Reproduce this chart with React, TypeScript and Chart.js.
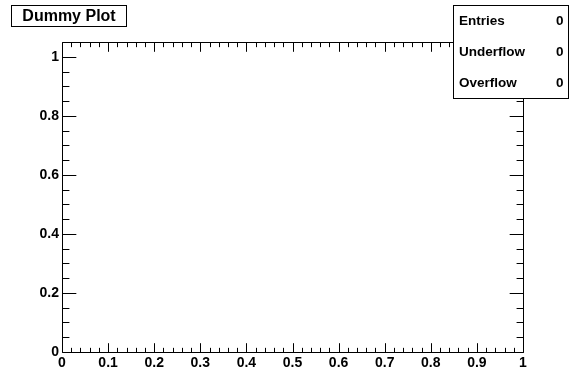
import React, { useEffect, useRef } from 'react';
import { Chart, registerables } from 'chart.js';

Chart.register(...registerables);

const plotTitle = 'Dummy Plot';
const entries: { x: number; y: number }[] = [];
const xRange = [0, 1];
const yRange = [0, 1.05];
const xTickValues = [0, 0.1, 0.2, 0.3, 0.4, 0.5, 0.6, 0.7, 0.8, 0.9, 1];
const xTickLabels = ['0', '0.1', '0.2', '0.3', '0.4', '0.5', '0.6', '0.7', '0.8', '0.9', '1'];
const yTickValues = [0, 0.2, 0.4, 0.6, 0.8, 1];
const yTickLabels = ['0', '0.2', '0.4', '0.6', '0.8', '1'];
const xMinorDivisions = 5;
const yMinorDivisions = 4;
const statsLabels = ['Entries', 'Underflow', 'Overflow'];
const statsValues = ['0', '0', '0'];

const FONT = '"Liberation Sans", Arial, Helvetica, sans-serif';

function minorValues(major: number[], div: number, min: number, max: number) {
  const step = (major[1] - major[0]) / div;
  const out: number[] = [];
  const k0 = Math.ceil(min / step - 1e-6);
  const k1 = Math.floor(max / step + 1e-6);
  for (let k = k0; k <= k1; k++) {
    if (k % div === 0) continue;
    out.push(k * step);
  }
  return out;
}

const rootPlugin = {
  id: 'rootFrame',
  afterDraw(chart: any) {
    const ctx: CanvasRenderingContext2D = chart.ctx;
    const { left, right, top, bottom } = chart.chartArea;
    const xs = chart.scales.x;
    const ys = chart.scales.y;
    const L = Math.round(left) + 0.5;
    const R = Math.round(right) + 0.5;
    const T = Math.round(top) + 0.5;
    const B = Math.round(bottom) + 0.5;
    const h = bottom - top;
    const w = right - left;
    const xMaj = 0.03 * h;
    const yMaj = 0.03 * w;
    ctx.save();
    ctx.strokeStyle = '#000';
    ctx.lineWidth = 1;
    ctx.beginPath();
    ctx.rect(L, T, R - L, B - T);
    const xMinor = minorValues(xTickValues, xMinorDivisions, xRange[0], xRange[1]);
    const drawX = (v: number, len: number) => {
      const px = Math.round(xs.getPixelForValue(v)) + 0.5;
      ctx.moveTo(px, B);
      ctx.lineTo(px, B - len);
      ctx.moveTo(px, T);
      ctx.lineTo(px, T + len);
    };
    xTickValues.forEach((v) => drawX(v, xMaj));
    xMinor.forEach((v) => drawX(v, xMaj / 2));
    const yMinor = minorValues(yTickValues, yMinorDivisions, yRange[0], yRange[1]);
    const drawY = (v: number, len: number) => {
      const py = Math.round(ys.getPixelForValue(v)) + 0.5;
      ctx.moveTo(L, py);
      ctx.lineTo(L + len, py);
      ctx.moveTo(R, py);
      ctx.lineTo(R - len, py);
    };
    yTickValues.forEach((v) => drawY(v, yMaj));
    yMinor.forEach((v) => drawY(v, yMaj / 2));
    ctx.stroke();

    // title box
    ctx.fillStyle = '#fff';
    ctx.fillRect(11.5, 5.5, 115, 21);
    ctx.strokeRect(11.5, 5.5, 115, 21);
    ctx.fillStyle = '#000';
    ctx.font = `bold 16px ${FONT}`;
    ctx.textAlign = 'center';
    ctx.textBaseline = 'middle';
    ctx.fillText(plotTitle, 69, 16.5);

    // stats box
    const bx = 453.5, by = 5.5, bw = 115, bh = 93;
    ctx.fillStyle = '#fff';
    ctx.fillRect(bx, by, bw, bh);
    ctx.strokeRect(bx, by, bw, bh);
    ctx.fillStyle = '#000';
    ctx.font = `bold 13.5px ${FONT}`;
    const rowH = bh / statsLabels.length;
    statsLabels.forEach((lab, i) => {
      const cy = by + rowH * (i + 0.5) + 0.5;
      ctx.textAlign = 'left';
      ctx.fillText(lab, 459, cy);
      ctx.textAlign = 'right';
      ctx.fillText(statsValues[i], 563.5, cy);
    });
    ctx.restore();
  },
};

export default function App() {
  const ref = useRef<HTMLCanvasElement | null>(null);
  useEffect(() => {
    if (!ref.current) return;
    const tickFont = { family: FONT, weight: 'bold' as const, size: 14 };
    const chart = new Chart(ref.current, {
      type: 'scatter',
      data: { datasets: [{ data: entries, showLine: false, pointRadius: 0 }] },
      options: {
        responsive: false,
        animation: false,
        devicePixelRatio: 1,
        layout: { padding: { top: 42, right: 53, left: 0, bottom: 0 } },
        plugins: { legend: { display: false }, tooltip: { enabled: false }, title: { display: false } },
        scales: {
          x: {
            type: 'linear',
            min: xRange[0],
            max: xRange[1],
            grid: { display: false, drawTicks: false, tickLength: 0 },
            border: { display: false },
            ticks: {
              font: tickFont,
              color: '#000',
              padding: 3,
              autoSkip: false,
              maxRotation: 0,
              includeBounds: false,
              callback: (_v: any, i: number) => xTickLabels[i],
            },
            afterBuildTicks: (s: any) => {
              s.ticks = xTickValues.map((value) => ({ value }));
            },
            afterFit: (s: any) => {
              s.height = 22;
            },
          },
          y: {
            type: 'linear',
            min: yRange[0],
            max: yRange[1],
            grid: { display: false, drawTicks: false, tickLength: 0 },
            border: { display: false },
            ticks: {
              font: tickFont,
              color: '#000',
              padding: 3,
              autoSkip: false,
              includeBounds: false,
              callback: (_v: any, i: number) => yTickLabels[i],
            },
            afterBuildTicks: (s: any) => {
              s.ticks = yTickValues.map((value) => ({ value }));
            },
            afterFit: (s: any) => {
              s.width = 62;
            },
          },
        },
      },
      plugins: [rootPlugin],
    });
    return () => chart.destroy();
  }, []);
  return (
    <div style={{ position: 'absolute', left: 0, top: 0, width: 576, height: 374, background: '#fff' }}>
      <canvas ref={ref} width={576} height={374} style={{ display: 'block' }} />
    </div>
  );
}
